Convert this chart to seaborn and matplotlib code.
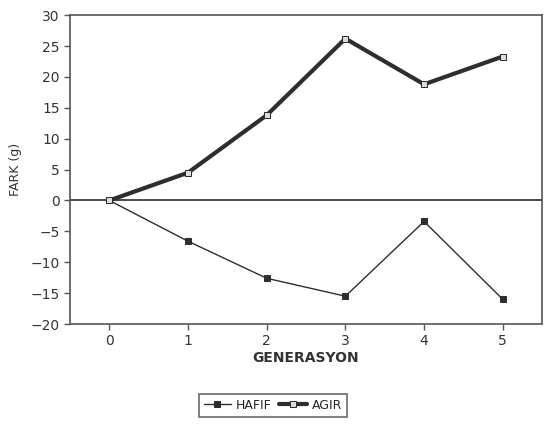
import matplotlib
matplotlib.use("Agg")
import matplotlib.pyplot as plt
import seaborn as sns
import pandas as pd

sns.set_style("white")
plt.rcParams['font.family'] = ['DejaVu Sans']

generasyon = [0, 1, 2, 3, 4, 5]
hafif = [0, -6.6, -12.6, -15.5, -3.4, -16.0]
agir = [0, 4.5, 13.8, 26.2, 18.8, 23.3]
yticks = [-20, -15, -10, -5, 0, 5, 10, 15, 20, 25, 30]

df_h = pd.DataFrame({"GENERASYON": generasyon, "FARK": hafif})
df_a = pd.DataFrame({"GENERASYON": generasyon, "FARK": agir})

fig = plt.figure(figsize=(5.47, 4.32), dpi=100)
ax = fig.add_axes([0.128, 0.25, 0.863, 0.715])

col = "#2e2e2e"
ax.axhline(0, color=col, lw=1.2, zorder=1)
sns.lineplot(data=df_h, x="GENERASYON", y="FARK", ax=ax, color=col, lw=1.0,
             marker="s", markersize=5, markerfacecolor=col, markeredgecolor=col,
             label="HAFIF")
sns.lineplot(data=df_a, x="GENERASYON", y="FARK", ax=ax, color=col, lw=3.0,
             marker="s", markersize=5, markerfacecolor="#dddddd", markeredgecolor=col,
             label="AGIR")

ax.set_xlim(-0.5, 5.5)
ax.set_ylim(-20, 30)
ax.set_yticks(yticks)
ax.set_xticks(generasyon)
for s in ax.spines.values():
    s.set_color("#555555")
    s.set_linewidth(1.2)
ax.tick_params(axis="both", direction="out", length=4, width=1, color="#555555",
               labelsize=10, labelcolor="#333333", left=True, bottom=True)
ax.set_xlabel("GENERASYON", fontsize=10, color="#333333", fontweight="bold", labelpad=2)
ax.set_ylabel("FARK (g)", fontsize=9, color="#333333", labelpad=6)

leg = ax.legend(loc="upper center", bbox_to_anchor=(0.43, -0.205), ncol=2, frameon=True,
                fancybox=False, edgecolor="#444444", fontsize=9, handlelength=2.2,
                columnspacing=0.6, handletextpad=0.4, borderpad=0.4)
leg.get_frame().set_linewidth(1.2)

fig.savefig("out.png", dpi=100)
